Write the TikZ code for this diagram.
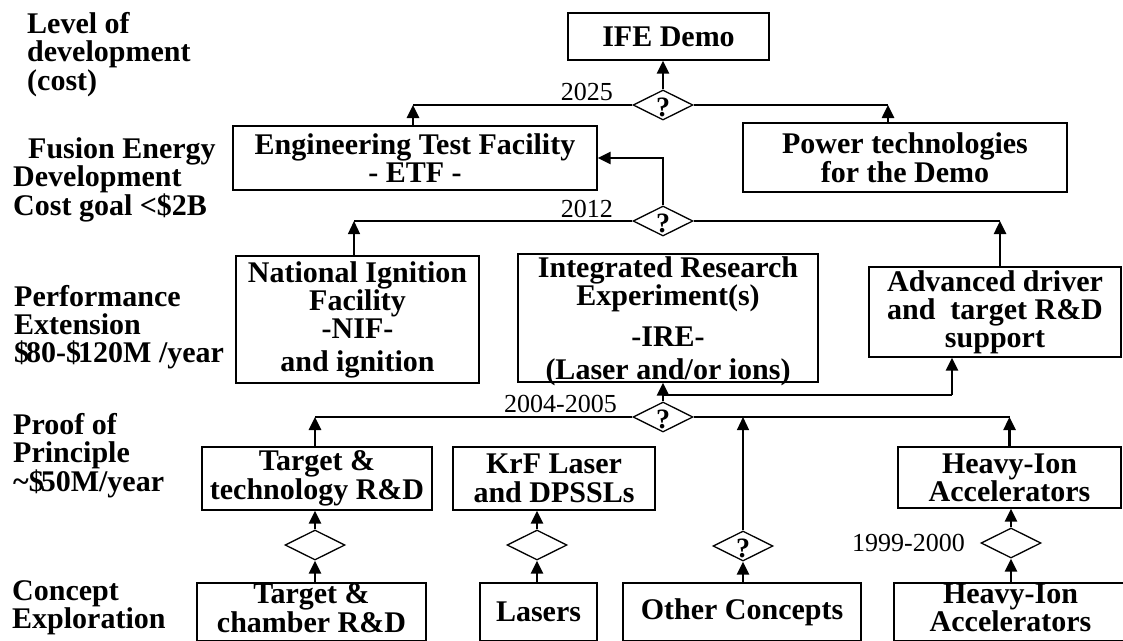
\documentclass[tikz,border=0pt]{standalone}
\usepackage{fontspec}
\setmainfont{Liberation Serif}
\usetikzlibrary{positioning}
\usetikzlibrary{shapes.geometric}
\usetikzlibrary{arrows.meta}

\begin{document}
\begin{tikzpicture}[x=1pt,y=-1pt,
 box/.style={draw,line width=1.3pt,align=center,inner sep=0pt},
 bf/.style={font=\bfseries\fontsize{30}{#1}\selectfont},
 lvl/.style={anchor=north west,align=left,inner sep=0pt},
 yr/.style={anchor=base east,inner sep=0pt,font=\fontsize{26}{26}\selectfont},
 dia/.style={draw,diamond,aspect=2,minimum width=60pt,minimum height=30pt,inner sep=0pt,line width=1.3pt},
 ask/.style={label={[font=\bfseries\fontsize{28}{28}\selectfont,inner sep=0pt,yshift=-2pt]center:?}},
 thk/.style={line width=2.6pt},
 thn/.style={line width=1.2pt},
 tip/.style={-{Triangle[length=13pt,width=12pt]}}]
 \clip (0,0) rectangle (1123,640);
 \fill[white] (0,0) rectangle (1123,640);
 % levels
 \node[lvl,bf=28.5] (lev) at (27,12) {Level of\\development\\(cost)};
 \node[lvl,bf=25] (fed) at (13,137) {\hspace*{15pt}Fusion Energy\\Development\\Cost goal <\$2B};
 \node[lvl,bf=28] (pex) at (14,285) {Performance\\Extension\\\$\kern-3pt 80-\$\kern-3pt 120M /year};
 \node[lvl,bf=28] (pop) at (13,413) {Proof of\\Principle\\\textasciitilde\$\kern-3pt 50M/year};
 \node[lvl,bf=23] (cex) at (12,580) {Concept\\Exploration};
 % boxes
 \node[box,bf=29,minimum width=201pt,minimum height=47pt] (demo) at (668.5,36.5) {IFE Demo};
 \node[box,bf=25,minimum width=364pt,minimum height=64pt] (etf) at (415,158) {Engineering Test Facility\\- ETF -};
 \node[box,bf=29,minimum width=324pt,minimum height=69pt] (power) at (905,157.5) {Power technologies\\for the Demo};
 \node[box,bf=28,minimum width=243pt,minimum height=127pt] (nif) at (357.5,319.5) {National Ignition\\Facility\\-NIF-\\[5pt]and ignition};
 \node[box,bf=23,minimum width=300pt,minimum height=128pt,text depth=-3pt] (ire) at (668,318) {Integrated Research\\Experiment(s)\\[14pt]-IRE-\\[10pt](Laser and/or ions)};
 \node[box,bf=28,minimum width=252pt,minimum height=90pt] (adv) at (995,312) {Advanced driver\\and\ \ target R\&D\\support};
 \node[box,bf=27,minimum width=230pt,minimum height=63pt] (tgttech) at (317,478.5) {Target \&\\technology R\&D};
 \node[box,bf=28.5,minimum width=202pt,minimum height=63pt] (krf) at (554,478.5) {KrF Laser\\and DPSSLs};
 \node[box,bf=24,minimum width=223pt,minimum height=61pt] (hipop) at (1009.5,477.5) {Heavy-Ion\\Accelerators};
 \node[box,bf=26,minimum width=229pt,minimum height=58pt,text depth=8pt] (tgtch) at (311.5,612) {Target \&\\chamber R\&D};
 \node[box,bf=27,minimum width=117pt,minimum height=58pt] (lasers) at (538.5,612) {Lasers};
 \node[box,bf=27,minimum width=238pt,minimum height=58pt] (other) at (742,612) {Other Concepts};
 \node[box,bf=23,minimum width=233pt,minimum height=58pt,text depth=8pt] (hicon) at (1010.5,612) {Heavy-Ion\\Accelerators};
 % decisions
 \node[dia,ask] (d25) at (663,105) {};
 \node[dia,ask] (d12) at (663,221) {};
 \node[dia,ask] (d04) at (663,417) {};
 \node[dia] (dtgt) at (315,545) {};
 \node[dia] (dkrf) at (537,545) {};
 \node[dia,ask] (doth) at (743,546) {};
 \node[dia] (dhi) at (1011,543) {};
 \node[yr] (y25) at (613,100) {2025};
 \node[yr] (y12) at (613,217) {2012};
 \node[yr] (y04) at (617,412) {2004-2005};
 \node[yr] (y99) at (965,551) {1999-2000};
 % junctions
 \coordinate (c25l) at (413,105);
 \coordinate (c25r) at (888,105);
 \coordinate (c12l) at (354,221);
 \coordinate (c12r) at (1000,221);
 \coordinate (c04l) at (315,417);
 \coordinate (c04m) at (663,395);
 \coordinate (c04r) at (952,395);
 % 2025
 \draw[thk,tip] (d25.north) -- (d25.north |- demo.south);
 \draw[thn] (d25.west) -- (c25l);
 \draw[thk] (c25l) -- ++(112,0);
 \draw[thk,tip] (etf.north -| c25l) -- (c25l);
 \draw[thn] (d25.east) -- (c25r);
 \draw[thk,tip] (power.north -| c25r) -- (c25r);
 % 2012
 \draw[thk] (d12.north) -- (d12.north |- etf.east) -- ++(-26,0);
 \draw[thk,tip] (d12.north |- etf.east) ++(-26,0) -- (etf.east);
 \draw[thn] (d12.west) -- (c12l);
 \draw[thn,tip] (nif.north -| c12l) -- (c12l);
 \draw[thk] (d12.east) -- (c12r);
 \draw[thk,tip] (adv.north -| c12r) -- (c12r);
 % 2004-2005
 \draw[thk,tip] (d04.north) -- (d04.north |- ire.south);
 \draw[thk] (c04m) -- (c04r);
 \draw[thk,tip] (c04r) -- (adv.south -| c04r);
 \draw[thn] (d04.west) -- (c04l);
 \draw[thk] (c04l) -- ++(162,0);
 \draw[thk,tip] (tgttech.north -| c04l) -- (c04l);
 \draw[thn] (d04.east) -- (d04.east -| hipop.north);
 \draw[thk,tip] (hipop.north) -- (hipop.north |- d04.east);
 \draw[thn,tip] (doth.north) -- (doth.north |- d04.east);
 % concept exploration
 \draw[thk,tip] (dtgt.north) -- (dtgt.north |- tgttech.south);
 \draw[thk,tip] (tgtch.north -| dtgt) -- (dtgt.south);
 \draw[thk,tip] (dkrf.north) -- (dkrf.north |- krf.south);
 \draw[thk,tip] (lasers.north -| dkrf) -- (dkrf.south);
 \draw[thk,tip] (other.north -| doth) -- (doth.south);
 \draw[thk,tip] (dhi.north) -- (dhi.north |- hipop.south);
 \draw[thk,tip] (hicon.north -| dhi) -- (dhi.south);
\end{tikzpicture}
\end{document}
